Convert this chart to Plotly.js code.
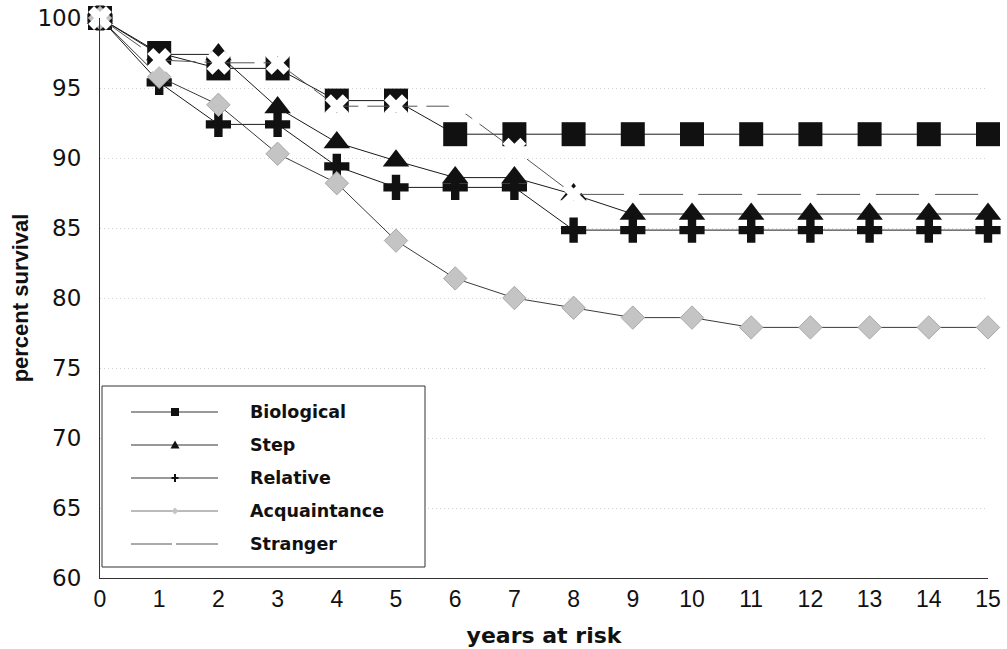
<!DOCTYPE html>
<html>
<head>
<meta charset="utf-8">
<script src="https://cdn.plot.ly/plotly-3.0.1.min.js"></script>
<style>
  html, body { margin: 0; padding: 0; background: #ffffff; }
  #chart { width: 1007px; height: 649px; }
</style>
</head>
<body>
<div id="chart"></div>
<script>
// ---------------- data ----------------
const years = [0, 1, 2, 3, 4, 5, 6, 7, 8, 9, 10, 11, 12, 13, 14, 15];
const seriesNames = ["Biological", "Step", "Relative", "Acquaintance", "Stranger"];
const biological   = [100, 97.5, 96.4, 96.4, 94.1, 94.1, 91.7, 91.7, 91.7, 91.7, 91.7, 91.7, 91.7, 91.7, 91.7, 91.7];
const step         = [100, 97.4, 97.4, 93.6, 91.1, 89.8, 88.6, 88.6, 87.4, 86.0, 86.0, 86.0, 86.0, 86.0, 86.0, 86.0];
const relative     = [100, 95.4, 92.4, 92.4, 89.4, 87.9, 87.9, 87.9, 84.85, 84.85, 84.85, 84.85, 84.85, 84.85, 84.85, 84.85];
const acquaintance = [100, 95.8, 93.8, 90.3, 88.2, 84.1, 81.4, 80.0, 79.3, 78.6, 78.6, 77.9, 77.9, 77.9, 77.9, 77.9];
const stranger     = [100, 97.0, 96.8, 96.8, 93.7, 93.7, 93.7, 90.6, 87.4, 87.4, 87.4, 87.4, 87.4, 87.4, 87.4, 87.4];
const yTickVals = [60, 65, 70, 75, 80, 85, 90, 95, 100];
const xTickVals = years;
const xTitle = "years at risk";
const yTitle = "percent survival";

// ---------------- layout geometry ----------------
const FIG_W = 1007, FIG_H = 649;
const M = { l: 100, r: 19, t: 18, b: 71 };
const PW = FIG_W - M.l - M.r, PH = FIG_H - M.t - M.b;
const px = x => (x - M.l) / PW;             // pixel -> paper x
const py = y => (FIG_H - M.b - y) / PH;     // pixel -> paper y

const styles = [
  { symbol: "square",       size: 24, color: "#111111", lcolor: "#1a1a1a", dash: "solid" },
  { symbol: "triangle-up",  size: 23, color: "#111111", lcolor: "#1a1a1a", dash: "solid" },
  { symbol: "cross",        size: 21, color: "#111111", lcolor: "#1a1a1a", dash: "solid" },
  { symbol: "diamond",      size: 18, color: "#c4c4c4", lcolor: "#3a3a3a", dash: "solid" },
  { symbol: "x",            size: 21, color: "#ffffff", lcolor: "#555555", dash: "50px,9px" }
];
const seriesValues = [biological, step, relative, acquaintance, stranger];

const traces = seriesNames.map((name, i) => ({
  type: "scatter",
  mode: "lines+markers",
  name: name,
  x: years,
  y: seriesValues[i],
  cliponaxis: false,
  showlegend: false,
  line: { color: styles[i].lcolor, width: 1, dash: styles[i].dash },
  marker: {
    symbol: styles[i].symbol,
    size: styles[i].size,
    color: styles[i].color,
    line: { width: i === 3 ? 1 : 0, color: "#a9a9a9" }
  }
}));

// ---------------- custom legend (box, samples, labels) ----------------
const shapes = [];
const annotations = [];
shapes.push({
  type: "rect", xref: "paper", yref: "paper", layer: "above",
  x0: px(102), x1: px(425), y0: py(567), y1: py(386),
  fillcolor: "#ffffff", line: { color: "#333333", width: 1 }
});
const rowY0 = 412, rowGap = 33, lx0 = 131, lx1 = 218, mx = 175, tx = 248;
seriesNames.forEach((name, i) => {
  const y = rowY0 + i * rowGap;
  const lc = i === 3 ? "#777777" : "#333333";
  if (i === 4) {
    shapes.push({ type: "line", xref: "paper", yref: "paper", layer: "above",
      x0: px(lx0), x1: px(172), y0: py(y), y1: py(y), line: { color: "#555555", width: 1 } });
    shapes.push({ type: "line", xref: "paper", yref: "paper", layer: "above",
      x0: px(176), x1: px(lx1), y0: py(y), y1: py(y), line: { color: "#555555", width: 1 } });
  } else {
    shapes.push({ type: "line", xref: "paper", yref: "paper", layer: "above",
      x0: px(lx0), x1: px(lx1), y0: py(y), y1: py(y), line: { color: lc, width: 1 } });
  }
  if (i === 0) {
    shapes.push({ type: "rect", xref: "paper", yref: "paper", layer: "above",
      x0: px(mx - 4), x1: px(mx + 4), y0: py(y + 4), y1: py(y - 4),
      fillcolor: "#111111", line: { width: 0 } });
  } else if (i === 1) {
    shapes.push({ type: "path", xref: "paper", yref: "paper", layer: "above",
      path: `M${px(mx - 4.5)},${py(y + 3.5)} L${px(mx + 4.5)},${py(y + 3.5)} L${px(mx)},${py(y - 4.5)} Z`,
      fillcolor: "#111111", line: { width: 0 } });
  } else if (i === 2) {
    shapes.push({ type: "path", xref: "paper", yref: "paper", layer: "above",
      path: `M${px(mx - 3.5)},${py(y)} L${px(mx + 3.5)},${py(y)} M${px(mx)},${py(y - 4)} L${px(mx)},${py(y + 4)}`,
      line: { color: "#111111", width: 2 } });
  } else if (i === 3) {
    shapes.push({ type: "path", xref: "paper", yref: "paper", layer: "above",
      path: `M${px(mx - 3.5)},${py(y)} L${px(mx)},${py(y - 3.5)} L${px(mx + 3.5)},${py(y)} L${px(mx)},${py(y + 3.5)} Z`,
      fillcolor: "#c4c4c4", line: { width: 0 } });
  }
  annotations.push({
    xref: "paper", yref: "paper", x: px(tx), y: py(y),
    xanchor: "left", yanchor: "middle", showarrow: false,
    text: name,
    font: { family: "DejaVu Sans", size: 17.5, weight: "bold", color: "#111111" }
  });
});

const layout = {
  width: FIG_W, height: FIG_H,
  margin: M,
  paper_bgcolor: "#ffffff", plot_bgcolor: "#ffffff",
  showlegend: false,
  xaxis: {
    range: [0, 15], tickvals: xTickVals, ticktext: xTickVals.map(String),
    showgrid: false, zeroline: false,
    showline: true, linecolor: "#333333", linewidth: 1,
    ticks: "", ticklabelstandoff: 0,
    tickfont: { family: "Liberation Sans", size: 23, color: "#111111" },
    title: { text: xTitle, standoff: 17,
      font: { family: "DejaVu Sans", size: 22, weight: "bold", color: "#111111" } },
    fixedrange: true
  },
  yaxis: {
    range: [60, 100], tickvals: yTickVals, ticktext: yTickVals.map(String),
    showgrid: true, gridcolor: "#d2d2d2", griddash: "1px,3px", gridwidth: 1,
    zeroline: false,
    showline: true, linecolor: "#333333", linewidth: 1,
    ticks: "", ticklabelstandoff: 13,
    tickfont: { family: "DejaVu Sans", size: 23, color: "#111111" },
    title: { text: yTitle, standoff: 2,
      font: { family: "Liberation Sans", size: 22, weight: "bold", color: "#111111" } },
    fixedrange: true
  },
  shapes: shapes,
  annotations: annotations
};

Plotly.newPlot("chart", traces, layout, { displayModeBar: false, staticPlot: true });
</script>
</body>
</html>
